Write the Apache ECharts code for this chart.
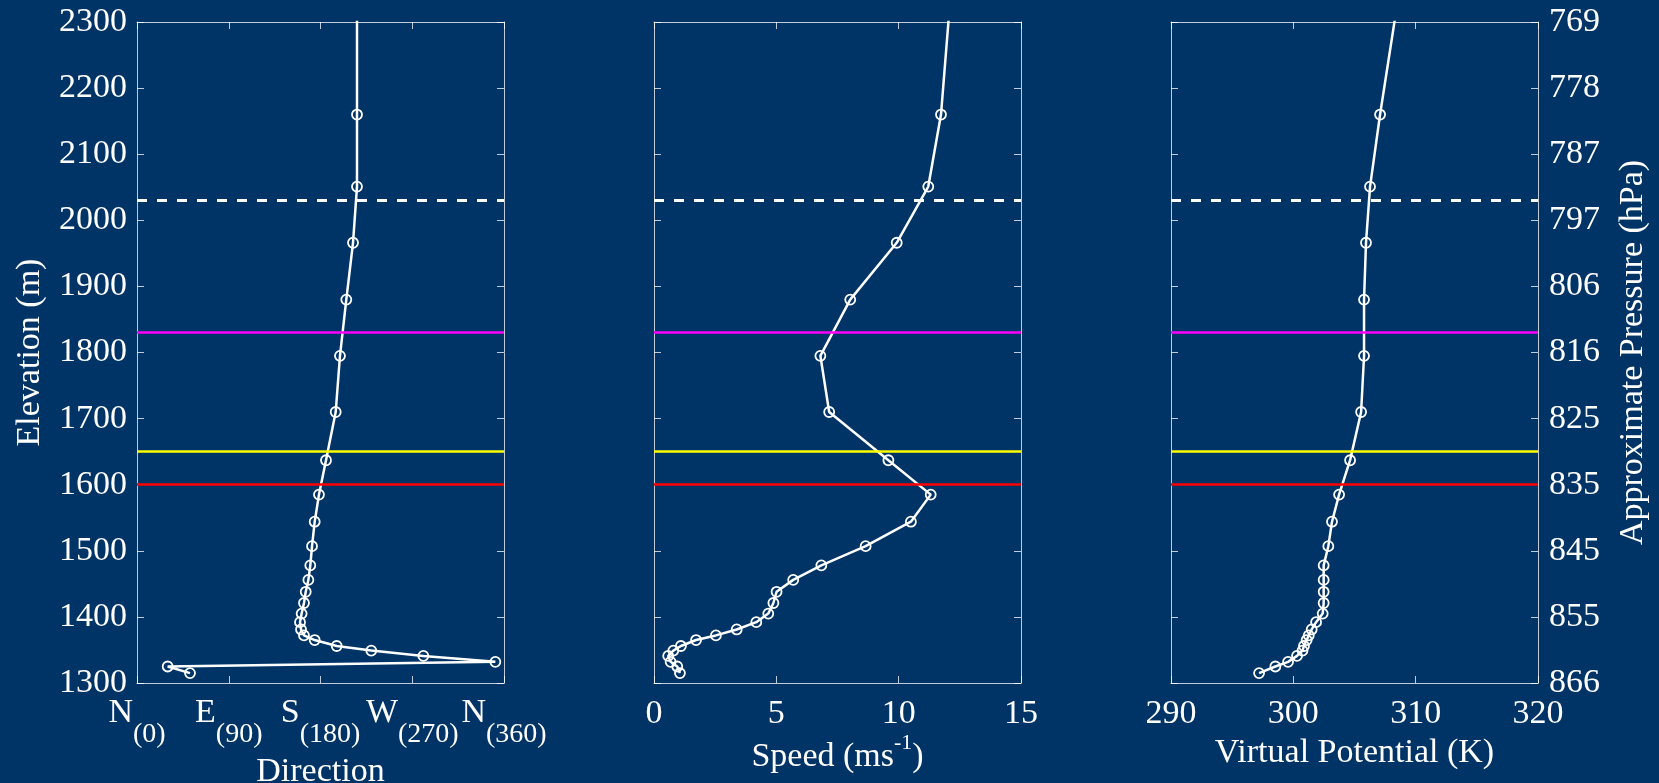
<!DOCTYPE html>
<html>
<head>
<meta charset="utf-8">
<script src="https://cdn.jsdelivr.net/npm/echarts@6/dist/echarts.min.js"></script>
<style>
  html, body { margin: 0; padding: 0; background: #003366; }
  #chart { width: 1659px; height: 783px; }
</style>
</head>
<body>
<div id="chart"></div>
<script>
// Sounding profile: elevation (m) of each observation level
const elevation = [2340, 2160, 2051, 1966, 1880, 1795, 1710, 1637, 1585, 1544, 1507, 1478, 1456,
  1438, 1421, 1405, 1392, 1381, 1372, 1365, 1356, 1349, 1341, 1332, 1325, 1315];
// Wind direction (degrees)
const direction = [215.8, 215.8, 215.8, 211.9, 205.3, 199.1, 194.9, 185.4, 178.5, 174.3, 171.7, 170.0, 168.1,
  165.5, 163.8, 161.5, 159.9, 160.9, 163.8, 174.3, 195.9, 229.8, 280.9, 351.5, 30.1, 52.0];
// Wind speed (m/s)
const speed = [12.12, 11.73, 11.21, 9.92, 8.02, 6.80, 7.16, 9.58, 11.31, 10.50, 8.65, 6.84, 5.69,
  5.01, 4.88, 4.67, 4.18, 3.38, 2.53, 1.72, 1.10, 0.79, 0.58, 0.68, 0.95, 1.06];
// Virtual potential temperature (K)
const thetaV = [308.6, 307.09, 306.27, 305.94, 305.78, 305.78, 305.54, 304.64, 303.74, 303.16, 302.86, 302.48, 302.48,
  302.48, 302.48, 302.40, 301.86, 301.50, 301.26, 301.09, 300.87, 300.75, 300.30, 299.57, 298.53, 297.20];

// Reference heights (m) drawn across every panel
const refHeights = [2030, 1830, 1650, 1600];
const refColors = ['#ffffff', '#ff00ff', '#ffff00', '#ff0000'];
const refDashed = [true, false, false, false];

// Axis ranges
const elevRange = [1300, 2300, 100];
const dirRange = [0, 360, 90];
const speedRange = [0, 15, 5];
const thetaRange = [290, 320, 10];

// Tick labels
const dirLetters = ['N', 'E', 'S', 'W', 'N'];
const dirDegrees = ['0', '90', '180', '270', '360'];
const pressureLabels = ['866', '855', '845', '835', '825', '816', '806', '797', '787', '778', '769'];

const FONT = 'Liberation Serif';
const AXIS_COLOR = 'rgba(255,255,255,0.75)';
const panelLeft = [137, 654, 1171];
const panelTop = 22, panelW = 367, panelH = 661;

const chart = echarts.init(document.getElementById('chart'), null, { renderer: 'canvas' });

const grids = panelLeft.map(l => ({
  left: l, top: panelTop, width: panelW, height: panelH,
  containLabel: false, outerBoundsMode: 'none'
}));

const xRanges = [dirRange, speedRange, thetaRange];
const xNames = ['Direction', '{m|Speed (ms}{sup|-1}{m|)}', 'Virtual Potential (K)'];
const xNameGaps = [72, 57, 53];

function baseAxis() {
  return {
    type: 'value',
    axisLine: { show: true, onZero: false, lineStyle: { color: AXIS_COLOR, width: 1 } },
    axisTick: { show: true, inside: true, length: 7, lineStyle: { color: AXIS_COLOR, width: 1 } },
    splitLine: { show: false },
  };
}

const xAxes = [];
xRanges.forEach((r, i) => {
  const bottom = Object.assign(baseAxis(), {
    gridIndex: i, position: 'bottom', min: r[0], max: r[1], interval: r[2],
    name: xNames[i], nameLocation: 'middle', nameGap: xNameGaps[i], nameMoveOverlap: false,
    nameTextStyle: {
      color: '#fff', fontFamily: FONT, fontSize: 34,
      rich: {
        m: { color: '#fff', fontFamily: FONT, fontSize: 34, lineHeight: 34 },
        sup: { color: '#fff', fontFamily: FONT, fontSize: 22, lineHeight: 22, padding: [0, 0, 28, 0] }
      }
    },
    axisLabel: { show: true, color: '#fff', fontFamily: FONT, fontSize: 34, margin: 14 }
  });
  if (i === 0) {
    bottom.axisLabel = {
      show: true, margin: 24,
      formatter: v => {
        const k = Math.round((v - dirRange[0]) / dirRange[2]);
        return '{big|' + dirLetters[k] + '}{sub|(' + dirDegrees[k] + ')}';
      },
      rich: {
        big: { color: '#fff', fontFamily: FONT, fontSize: 34, lineHeight: 34, padding: [0, 0, 22, 0] },
        sub: { color: '#fff', fontFamily: FONT, fontSize: 28, lineHeight: 28, padding: [22, 0, 0, 0] }
      }
    };
  }
  xAxes.push(bottom);
  xAxes.push(Object.assign(baseAxis(), {
    gridIndex: i, position: 'top', min: r[0], max: r[1], interval: r[2],
    axisLabel: { show: false }
  }));
});

const yAxes = [];
for (let i = 0; i < 3; i++) {
  const left = Object.assign(baseAxis(), {
    gridIndex: i, position: 'left', min: elevRange[0], max: elevRange[1], interval: elevRange[2],
    axisLabel: { show: i === 0, color: '#fff', fontFamily: FONT, fontSize: 34, margin: 10, formatter: v => String(v) }
  });
  if (i === 0) {
    left.name = 'Elevation (m)';
    left.nameLocation = 'middle';
    left.nameRotate = 90;
    left.nameGap = 90;
    left.nameTextStyle = { color: '#fff', fontFamily: FONT, fontSize: 34 };
  }
  yAxes.push(left);
  const right = Object.assign(baseAxis(), {
    gridIndex: i, position: 'right', min: elevRange[0], max: elevRange[1], interval: elevRange[2],
    axisLabel: {
      show: i === 2, color: '#fff', fontFamily: FONT, fontSize: 34, margin: 11,
      formatter: v => pressureLabels[Math.round((v - elevRange[0]) / elevRange[2])]
    }
  });
  if (i === 2) {
    right.name = 'Approximate Pressure (hPa)';
    right.nameLocation = 'middle';
    right.nameRotate = 90;
    right.nameGap = 78;
    right.nameTextStyle = { color: '#fff', fontFamily: FONT, fontSize: 34 };
  }
  yAxes.push(right);
}

// Horizontal reference levels, drawn on the y axis of each panel
const refLines = refHeights.map((h, j) => ({
  yAxis: h,
  lineStyle: { color: refColors[j], width: refDashed[j] ? 3 : 2.5, type: refDashed[j] ? [10, 10] : 'solid' }
}));

const profiles = [direction, speed, thetaV];
const series = profiles.map((vals, i) => ({
  type: 'line',
  xAxisIndex: i * 2, yAxisIndex: i * 2,
  data: vals.map((v, k) => [v, elevation[k]]),
  symbol: 'circle', symbolSize: 10,
  lineStyle: { color: '#fff', width: 2.5 },
  itemStyle: { color: 'rgba(0,0,0,0)', borderColor: '#fff', borderWidth: 1.8 },
  clip: true, z: 2,
  markLine: {
    silent: true, symbol: ['none', 'none'], animation: false,
    label: { show: false },
    data: refLines
  }
}));

chart.setOption({
  backgroundColor: '#003366',
  animation: false,
  grid: grids,
  xAxis: xAxes,
  yAxis: yAxes,
  series: series
});
</script>
</body>
</html>
